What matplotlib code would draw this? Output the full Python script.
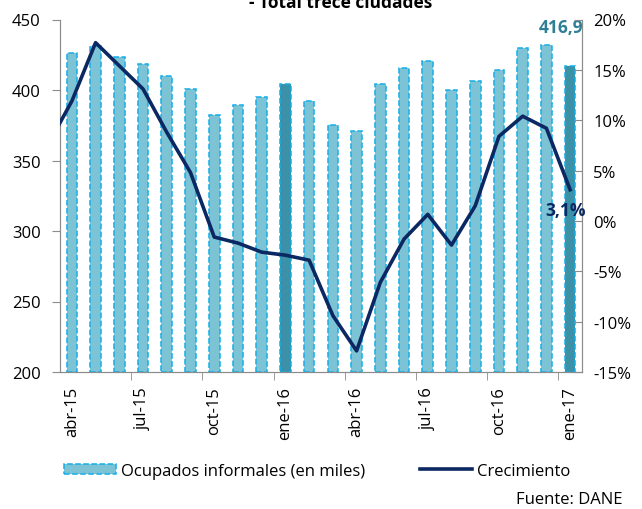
import numpy as np
import matplotlib.pyplot as plt
from matplotlib.patches import Patch
from matplotlib.lines import Line2D

plt.rcParams['font.family'] = ['Open Sans', 'DejaVu Sans']

meses = ['abr-15', 'may-15', 'jun-15', 'jul-15', 'ago-15', 'sep-15',
         'oct-15', 'nov-15', 'dic-15', 'ene-16', 'feb-16', 'mar-16',
         'abr-16', 'may-16', 'jun-16', 'jul-16', 'ago-16', 'sep-16',
         'oct-16', 'nov-16', 'dic-16', 'ene-17']
ocupados = [426.4, 431.0, 423.6, 418.1, 409.9, 400.4, 382.0, 389.6, 395.3,
            404.5, 392.1, 375.1, 371.1, 404.5, 415.5, 420.3, 400.0, 406.3,
            414.1, 430.0, 431.6, 416.9]
# crecimiento starts one month earlier (mar-15), clipped at the left edge
crecimiento = [7.6, 11.9, 17.7, 15.4, 13.1, 8.8, 4.8, -1.6, -2.2, -3.1, -3.4,
               -3.9, -9.4, -12.9, -6.1, -1.8, 0.65, -2.4, 1.5, 8.4, 10.4, 9.2,
               3.1]

light = '#7dc3d6'
dark = '#3a91a8'
edge = '#14aee8'
navy = '#0b2862'
grey = '#8c8c8c'

fig = plt.figure(figsize=(6.42, 5.10), dpi=100)
ax = fig.add_axes([60 / 642, 1 - 373 / 510, 522 / 642, 352.5 / 510])

x = np.arange(len(meses))
colors = [dark if m.startswith('ene') else light for m in meses]
ax.bar(x, np.array(ocupados) - 200, bottom=200, width=0.45, color=colors,
       edgecolor=edge, linestyle='--', linewidth=1.1, zorder=2)
ax.set_xlim(-0.5, len(meses) - 0.5)
ax.set_ylim(200, 450)
ax.set_yticks(range(200, 451, 50))
ax.tick_params(axis='y', labelsize=12, length=6, color=grey, pad=8)

ax.set_xticks(x[::3])
ax.set_xticklabels(meses[::3], rotation=90, fontsize=12)
ax.set_xticks(np.arange(2.5, len(meses), 3), minor=True)
ax.tick_params(axis='x', which='major', length=0, pad=10)
ax.tick_params(axis='x', which='minor', length=6, color=grey)

ax.spines['top'].set_visible(False)
for s in ['left', 'bottom', 'right']:
    ax.spines[s].set_color(grey)

ax2 = ax.twinx()
ax2.plot(np.arange(-1, len(meses)), crecimiento, color=navy, linewidth=2.6,
         zorder=3)
ax2.set_ylim(-15, 20)
ax2.set_yticks(range(-15, 21, 5))
ax2.set_yticklabels([f'{v}%' for v in range(-15, 21, 5)])
ax2.tick_params(axis='y', labelsize=12, length=6, color=grey, direction='in',
                pad=8)
ax2.spines['top'].set_visible(False)
for s in ['left', 'bottom', 'right']:
    ax2.spines[s].set_color(grey)
ax2.set_xlim(-0.5, len(meses) - 0.5)

ax.annotate('416,9', (x[-1], ocupados[-1]), xytext=(-6.5, 28),
            textcoords='offset points', ha='center', va='center',
            fontsize=12.5, fontweight='bold', color='#2f7f96')
ax2.annotate('3,1%', (x[-1], crecimiento[-1]), xytext=(-3.6, -14.4),
             textcoords='offset points', ha='center', va='center',
             fontsize=12.5, fontweight='bold', color=navy)

fig.text(0.53, 1 - 8 / 510, '- Total trece ciudades', ha='center',
         va='baseline', fontsize=12.5, fontweight='bold')

handles = [Patch(facecolor=light, edgecolor=edge, linestyle='--',
                 linewidth=1.1),
           Line2D([0], [0], color=navy, linewidth=2.6)]
fig.legend(handles, ['Ocupados informales (en miles)', 'Crecimiento'],
           loc='center', bbox_to_anchor=(0.494, 1 - 472 / 510), ncol=2,
           frameon=False, fontsize=12, handlelength=3.1, handleheight=0.6,
           handletextpad=0.3, columnspacing=3.3)
fig.text(623 / 642, 1 - 500 / 510, 'Fuente: DANE', ha='right', va='center',
         fontsize=12)

fig.savefig('out.png', dpi=100)
